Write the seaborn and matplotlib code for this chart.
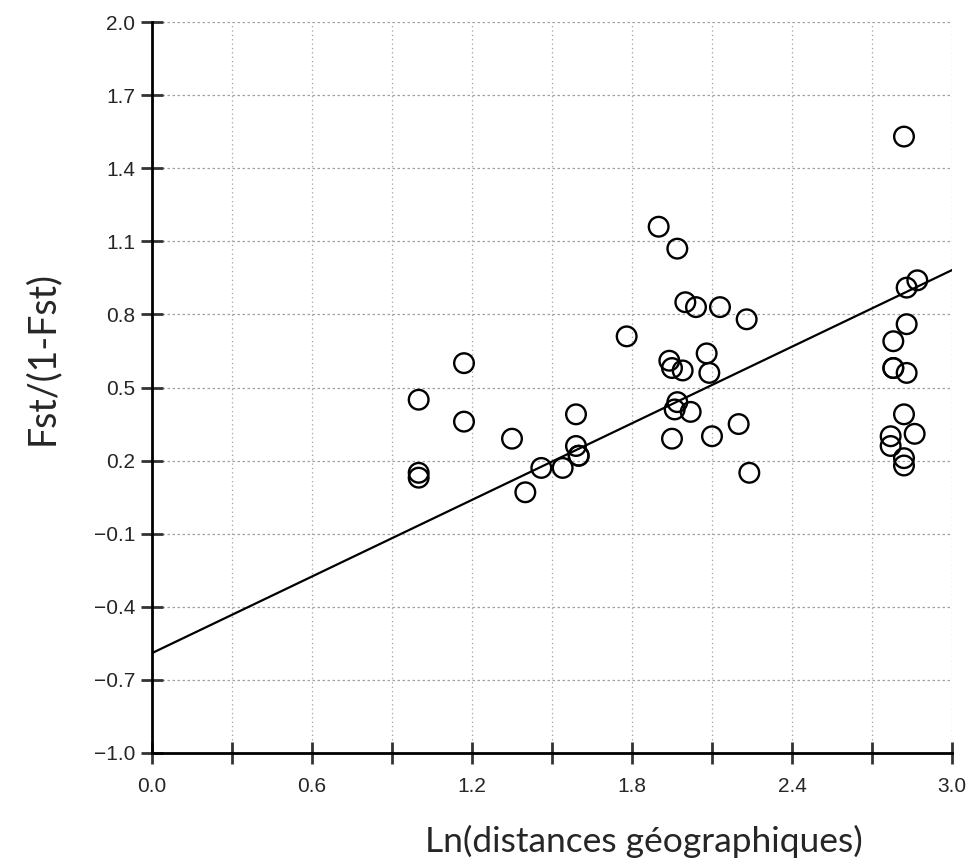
import numpy as np
import pandas as pd
import matplotlib
matplotlib.use('Agg')
import matplotlib.pyplot as plt
import seaborn as sns

ln_dist = [1.00, 1.00, 1.00, 1.17, 1.17, 1.35, 1.40, 1.46, 1.54, 1.59,
           1.59, 1.60, 1.60, 1.78, 1.90, 1.94, 1.95, 1.95, 1.96, 1.97,
           1.97, 1.99, 2.00, 2.02, 2.04, 2.08, 2.09, 2.10, 2.13, 2.20,
           2.23, 2.24, 2.77, 2.77, 2.78, 2.78, 2.78, 2.82, 2.82, 2.82,
           2.82, 2.83, 2.83, 2.83, 2.86, 2.87]
fst_ratio = [0.45, 0.15, 0.13, 0.60, 0.36, 0.29, 0.07, 0.17, 0.17, 0.26,
             0.39, 0.22, 0.22, 0.71, 1.16, 0.61, 0.58, 0.29, 0.41, 1.07,
             0.44, 0.57, 0.85, 0.40, 0.83, 0.64, 0.56, 0.30, 0.83, 0.35,
             0.78, 0.15, 0.30, 0.26, 0.69, 0.58, 0.58, 1.53, 0.21, 0.18,
             0.39, 0.91, 0.76, 0.56, 0.31, 0.94]

# regression line y = a + b*x
fit_intercept = -0.59
fit_slope = 0.524

x_ticks = np.round(np.arange(0, 3.01, 0.3), 1)
y_ticks = np.round(np.arange(-1.0, 2.01, 0.3), 1)

df = pd.DataFrame({'x': ln_dist, 'y': fst_ratio})

sns.set_style('white')
plt.rcParams['font.family'] = ['Liberation Sans', 'DejaVu Sans']

fig = plt.figure(figsize=(9.72, 8.65), dpi=100)
ax = fig.add_axes([0.1564, 0.1295, 0.823, 0.845])

# grid .............................................................
for xv in x_ticks:
    ax.axvline(xv, color='#a0a0a0', lw=0.9, ls=(0, (1, 2.5)), zorder=0)
for yv in y_ticks:
    ax.axhline(yv, color='#a0a0a0', lw=0.9, ls=(0, (2, 2)), zorder=0)

# fit line
line_x = np.array([0.0, 3.0])
line_df = pd.DataFrame({'x': line_x, 'y': fit_intercept + fit_slope * line_x})
sns.lineplot(data=line_df, x='x', y='y', color='black', lw=1.6, ax=ax, zorder=2)

sns.scatterplot(data=df, x='x', y='y', s=200, facecolors='none',
                edgecolor='black', linewidth=1.7, ax=ax, zorder=3)

ax.set_xlim(0, 3.0)
ax.set_ylim(-1.0, 2.0)
ax.set_xticks(x_ticks)
ax.set_xticklabels([f'{v:.1f}' if i % 2 == 0 else '' for i, v in enumerate(x_ticks)])
ax.set_yticks(y_ticks)
ax.set_yticklabels([f'{v:.1f}'.replace('-', '\u2212') for v in y_ticks])
ax.tick_params(axis='both', direction='inout', length=16, width=2,
               color='#333333', labelsize=15, bottom=True, left=True)
ax.tick_params(axis='x', pad=9)
ax.tick_params(axis='y', pad=4)

for s in ['top', 'right']:
    ax.spines[s].set_visible(False)
for s in ['left', 'bottom']:
    ax.spines[s].set_linewidth(2)
    ax.spines[s].set_color('black')

ax.set_xlabel('Ln(distances géographiques)', fontsize=25.5, family=['Lato', 'DejaVu Sans'])
ax.xaxis.set_label_coords(0.615, -0.098)
ax.set_ylabel('Fst/(1-Fst)', fontsize=27, family=['Lato', 'DejaVu Sans'])
ax.yaxis.set_label_coords(-0.115, 0.54)

plt.savefig('out.png', dpi=100)
plt.close()
